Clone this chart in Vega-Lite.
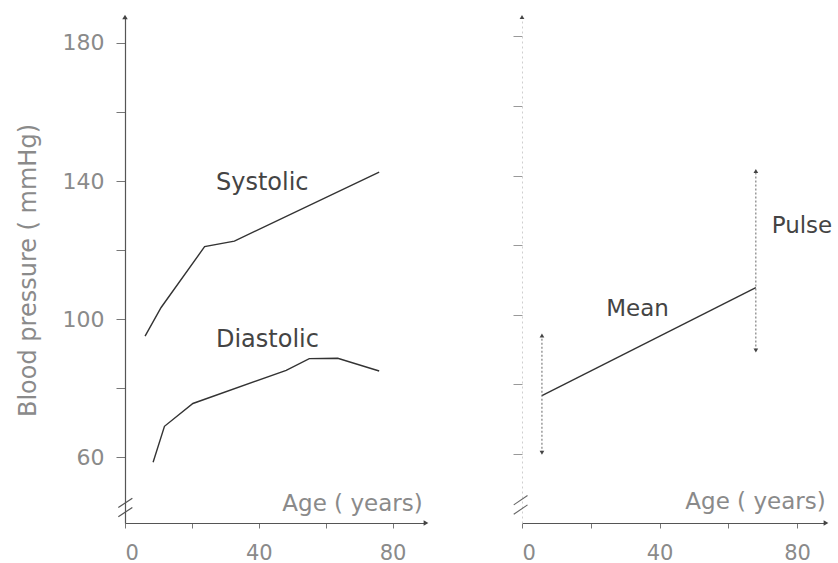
{
  "$schema": "https://vega.github.io/schema/vega-lite/v6.json",
  "background": "white",
  "padding": {"left": 16, "top": 14, "right": 5, "bottom": 3},
  "config": {"view": {"stroke": null}, "font": "DejaVu Sans", "concat": {"spacing": 83}},
  "datasets": {
    "curves": [
      {"series": "Systolic", "age": 6.0, "bp": 95.1},
      {"series": "Systolic", "age": 10.8, "bp": 103.4},
      {"series": "Systolic", "age": 23.8, "bp": 121.0},
      {"series": "Systolic", "age": 32.7, "bp": 122.6},
      {"series": "Systolic", "age": 76.0, "bp": 142.6},
      {"series": "Diastolic", "age": 8.4, "bp": 58.6},
      {"series": "Diastolic", "age": 11.8, "bp": 69.0},
      {"series": "Diastolic", "age": 20.3, "bp": 75.6},
      {"series": "Diastolic", "age": 48.2, "bp": 85.2},
      {"series": "Diastolic", "age": 55.1, "bp": 88.6},
      {"series": "Diastolic", "age": 63.6, "bp": 88.7},
      {"series": "Diastolic", "age": 76.0, "bp": 85.0}
    ],
    "leftLabels": [
      {"label": "Systolic", "age": 27.2, "bp": 139.4},
      {"label": "Diastolic", "age": 27.2, "bp": 93.9}
    ],
    "leftAxisTitle": [{"label": "Age ( years)", "age": 89, "bp": 46.5}],
    "leftUp": [{"age": 0, "bp": 187.5}],
    "leftRight": [{"age": 90, "bp": 41}],
    "leftBreak": [
      {"age": -2.0, "bp": 45.5, "age2": 2.2, "bp2": 48.2},
      {"age": -2.0, "bp": 42.8, "age2": 2.2, "bp2": 45.5}
    ],
    "mean": [
      {"age": 5.8, "bp": 76.7},
      {"age": 68.0, "bp": 107.8}
    ],
    "pulse": [
      {"age": 5.8, "bp": 60.3, "bp2": 94.0},
      {"age": 68.0, "bp": 89.7, "bp2": 141.3}
    ],
    "pulseTop": [
      {"age": 5.8, "bp": 94.0},
      {"age": 68.0, "bp": 141.3}
    ],
    "pulseBottom": [
      {"age": 5.8, "bp": 60.3},
      {"age": 68.0, "bp": 89.7}
    ],
    "rightLabels": [
      {"label": "Mean", "age": 24.5, "bp": 101.5},
      {"label": "Pulse", "age": 72.6, "bp": 125.4}
    ],
    "rightAxisTitle": [{"label": "Age ( years)", "age": 88.3, "bp": 46.2}],
    "rightUp": [{"age": 0, "bp": 185.6}],
    "rightRight": [{"age": 88.4, "bp": 40.1}],
    "rightBreak": [
      {"age": -2.4, "bp": 45.3, "age2": 1.6, "bp2": 48.0},
      {"age": -2.4, "bp": 42.6, "age2": 1.6, "bp2": 45.3}
    ]
  },
  "hconcat": [
    {
      "width": 301,
      "height": 506,
      "encoding": {
        "x": {
          "field": "age", "type": "quantitative",
          "scale": {"domain": [0, 90], "nice": false, "zero": false},
          "axis": {
            "title": null, "values": [0, 20, 40, 60, 80],
            "labelExpr": "datum.value % 40 == 0 ? datum.label : ''",
            "grid": false, "domainColor": "#555555", "domainWidth": 1.2,
            "tickColor": "#777777", "tickSize": 5, "labelPadding": 14,
            "labelFontSize": 21, "labelColor": "#8a8a8a", "labelFont": "DejaVu Sans"
          }
        },
        "y": {
          "field": "bp", "type": "quantitative",
          "scale": {"domain": [41, 187.5], "nice": false, "zero": false},
          "axis": {
            "title": "Blood pressure ( mmHg)", "values": [60, 80, 100, 120, 140, 160, 180],
            "labelExpr": "datum.value % 40 == 20 ? datum.label : ''",
            "grid": false, "domainColor": "#555555", "domainWidth": 1.2,
            "tickColor": "#777777", "tickSize": 9, "labelPadding": 12,
            "labelFontSize": 22, "labelColor": "#8a8a8a", "labelFont": "DejaVu Sans",
            "titleFontSize": 24, "titleColor": "#8a8a8a", "titleFontWeight": "normal",
            "titleFont": "DejaVu Sans", "titlePadding": 22
          }
        }
      },
      "layer": [
        {
          "data": {"name": "curves"},
          "mark": {"type": "line", "color": "#333333", "strokeWidth": 1.4},
          "encoding": {"detail": {"field": "series"}}
        },
        {
          "data": {"name": "leftLabels"},
          "mark": {"type": "text", "align": "left", "baseline": "middle", "fontSize": 24, "color": "#444444"},
          "encoding": {"text": {"field": "label"}}
        },
        {
          "data": {"name": "leftAxisTitle"},
          "mark": {"type": "text", "align": "right", "baseline": "middle", "fontSize": 23, "color": "#8a8a8a"},
          "encoding": {"text": {"field": "label"}}
        },
        {
          "data": {"name": "leftUp"},
          "mark": {"type": "point", "shape": "triangle-up", "filled": true, "size": 30, "color": "#444444", "opacity": 1},
          "encoding": {}
        },
        {
          "data": {"name": "leftRight"},
          "mark": {"type": "point", "shape": "triangle-right", "filled": true, "size": 30, "color": "#444444", "opacity": 1},
          "encoding": {}
        },
        {
          "data": {"name": "leftBreak"},
          "mark": {"type": "rule", "color": "#555555", "strokeWidth": 1.2},
          "encoding": {"x2": {"field": "age2"}, "y2": {"field": "bp2"}}
        }
      ]
    },
    {
      "width": 304,
      "height": 506,
      "encoding": {
        "x": {
          "field": "age", "type": "quantitative",
          "scale": {"domain": [0, 88.4], "nice": false, "zero": false},
          "axis": {
            "title": null, "values": [0, 20, 40, 60, 80],
            "labelExpr": "datum.value % 40 == 0 ? datum.label : ''",
            "grid": false, "domainColor": "#555555", "domainWidth": 1.2,
            "tickColor": "#777777", "tickSize": 5, "labelPadding": 14,
            "labelFontSize": 21, "labelColor": "#8a8a8a", "labelFont": "DejaVu Sans"
          }
        },
        "y": {
          "field": "bp", "type": "quantitative",
          "scale": {"domain": [40.1, 185.6], "nice": false, "zero": false},
          "axis": {
            "title": null, "values": [60, 80, 100, 120, 140, 160, 180],
            "labels": false, "grid": false,
            "domainColor": "#cfcfcf", "domainDash": [2, 3], "domainWidth": 1,
            "tickColor": "#999999", "tickSize": 9
          }
        }
      },
      "layer": [
        {
          "data": {"name": "mean"},
          "mark": {"type": "line", "color": "#333333", "strokeWidth": 1.4},
          "encoding": {}
        },
        {
          "data": {"name": "pulse"},
          "mark": {"type": "rule", "color": "#666666", "strokeWidth": 1, "strokeDash": [2, 2]},
          "encoding": {"y2": {"field": "bp2"}}
        },
        {
          "data": {"name": "pulseTop"},
          "mark": {"type": "point", "shape": "triangle-up", "filled": true, "size": 22, "color": "#444444", "opacity": 1},
          "encoding": {}
        },
        {
          "data": {"name": "pulseBottom"},
          "mark": {"type": "point", "shape": "triangle-down", "filled": true, "size": 22, "color": "#444444", "opacity": 1},
          "encoding": {}
        },
        {
          "data": {"name": "rightLabels"},
          "mark": {"type": "text", "align": "left", "baseline": "middle", "fontSize": 23, "color": "#444444"},
          "encoding": {"text": {"field": "label"}}
        },
        {
          "data": {"name": "rightAxisTitle"},
          "mark": {"type": "text", "align": "right", "baseline": "middle", "fontSize": 23, "color": "#8a8a8a"},
          "encoding": {"text": {"field": "label"}}
        },
        {
          "data": {"name": "rightUp"},
          "mark": {"type": "point", "shape": "triangle-up", "filled": true, "size": 22, "color": "#444444", "opacity": 1},
          "encoding": {}
        },
        {
          "data": {"name": "rightRight"},
          "mark": {"type": "point", "shape": "triangle-right", "filled": true, "size": 30, "color": "#444444", "opacity": 1},
          "encoding": {}
        },
        {
          "data": {"name": "rightBreak"},
          "mark": {"type": "rule", "color": "#666666", "strokeWidth": 1.1},
          "encoding": {"x2": {"field": "age2"}, "y2": {"field": "bp2"}}
        }
      ]
    }
  ]
}
